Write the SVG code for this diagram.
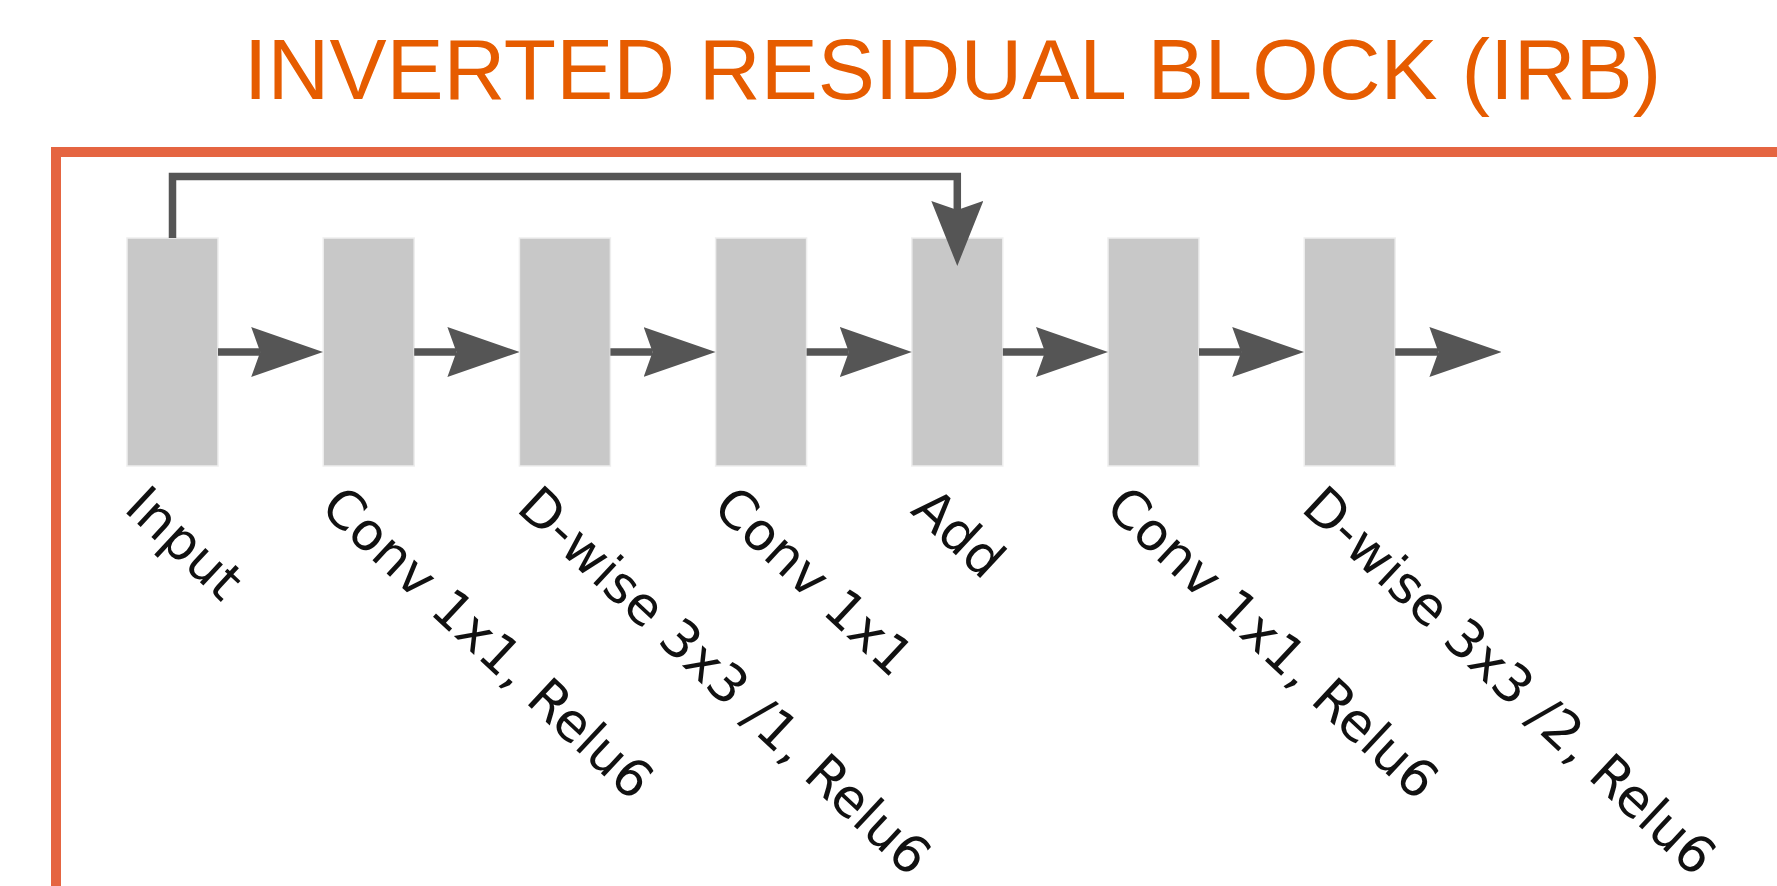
<svg xmlns="http://www.w3.org/2000/svg" width="1777" height="886" viewBox="0 0 1777 886">
  <style>
    .title { font-family: "Liberation Sans", Arial, sans-serif; font-size: 85.6px; fill: #E65C00; }
    .frame { fill: none; stroke: #E56541; stroke-width: 10; }
    .block { fill: #C8C8C8; stroke: #EEEEEE; stroke-width: 1.5; }
    .label { font-family: "DejaVu Sans", Verdana, sans-serif; font-size: 52.5px; fill: #111111; }
    .edge { fill: none; stroke: #555555; stroke-width: 7.5; stroke-linejoin: miter; }
  </style>
  <defs>
    <marker id="head" markerUnits="userSpaceOnUse" viewBox="0 0 72 50" markerWidth="72" markerHeight="50" refX="9" refY="25" orient="auto">
      <path d="M0,0 L72,25 L0,50 L9,25 Z" fill="#555555"/>
    </marker>
    <marker id="headShort" markerUnits="userSpaceOnUse" viewBox="0 0 65 52" markerWidth="65" markerHeight="52" refX="9" refY="26" orient="auto">
      <path d="M0,0 L65,26 L0,52 L9,26 Z" fill="#555555"/>
    </marker>
  </defs>

  <rect width="1777" height="886" fill="#FFFFFF"/>

  <text class="title" x="952.5" y="99" text-anchor="middle">INVERTED RESIDUAL BLOCK (IRB)</text>

  <!-- outer frame, open to the right and bottom -->
  <rect class="frame" x="56" y="152" width="1760" height="800"/>

  <!-- blocks -->
  <g id="input">
    <rect class="block" x="127" y="238" width="91" height="228"/>
    <text class="label" transform="translate(122.5,510) rotate(43)">Input</text>
  </g>
  <g id="conv1">
    <rect class="block" x="323.2" y="238" width="91" height="228"/>
    <text class="label" transform="translate(318.7,510) rotate(43)">Conv 1x1, Relu6</text>
  </g>
  <g id="dwise1">
    <rect class="block" x="519.4" y="238" width="91" height="228"/>
    <text class="label" transform="translate(514.9,510) rotate(43)">D-wise 3x3 /1, Relu6</text>
  </g>
  <g id="conv2">
    <rect class="block" x="715.6" y="238" width="91" height="228"/>
    <text class="label" transform="translate(711.1,510) rotate(43)">Conv 1x1</text>
  </g>
  <g id="add">
    <rect class="block" x="911.8" y="238" width="91" height="228"/>
    <text class="label" transform="translate(909.3,512) rotate(43)">Add</text>
  </g>
  <g id="conv3">
    <rect class="block" x="1108" y="238" width="91" height="228"/>
    <text class="label" transform="translate(1103.5,510) rotate(43)">Conv 1x1, Relu6</text>
  </g>
  <g id="dwise2">
    <rect class="block" x="1304.2" y="238" width="91" height="228"/>
    <text class="label" transform="translate(1299.7,510) rotate(43)">D-wise 3x3 /2, Relu6</text>
  </g>

  <!-- connectors -->
  <g id="connectors">
    <line class="edge" x1="218" y1="352" x2="260.2" y2="352" marker-end="url(#head)"/>
    <line class="edge" x1="414.2" y1="352" x2="456.4" y2="352" marker-end="url(#head)"/>
    <line class="edge" x1="610.4" y1="352" x2="652.6" y2="352" marker-end="url(#head)"/>
    <line class="edge" x1="806.6" y1="352" x2="848.8" y2="352" marker-end="url(#head)"/>
    <line class="edge" x1="1002.8" y1="352" x2="1045" y2="352" marker-end="url(#head)"/>
    <line class="edge" x1="1199" y1="352" x2="1241.2" y2="352" marker-end="url(#head)"/>
    <line class="edge" x1="1395.2" y1="352" x2="1438.4" y2="352" marker-end="url(#head)"/>
    <!-- skip connection: input to add -->
    <path class="edge" d="M172.5,238 V176.5 H957.3 V210" marker-end="url(#headShort)"/>
  </g>
</svg>
